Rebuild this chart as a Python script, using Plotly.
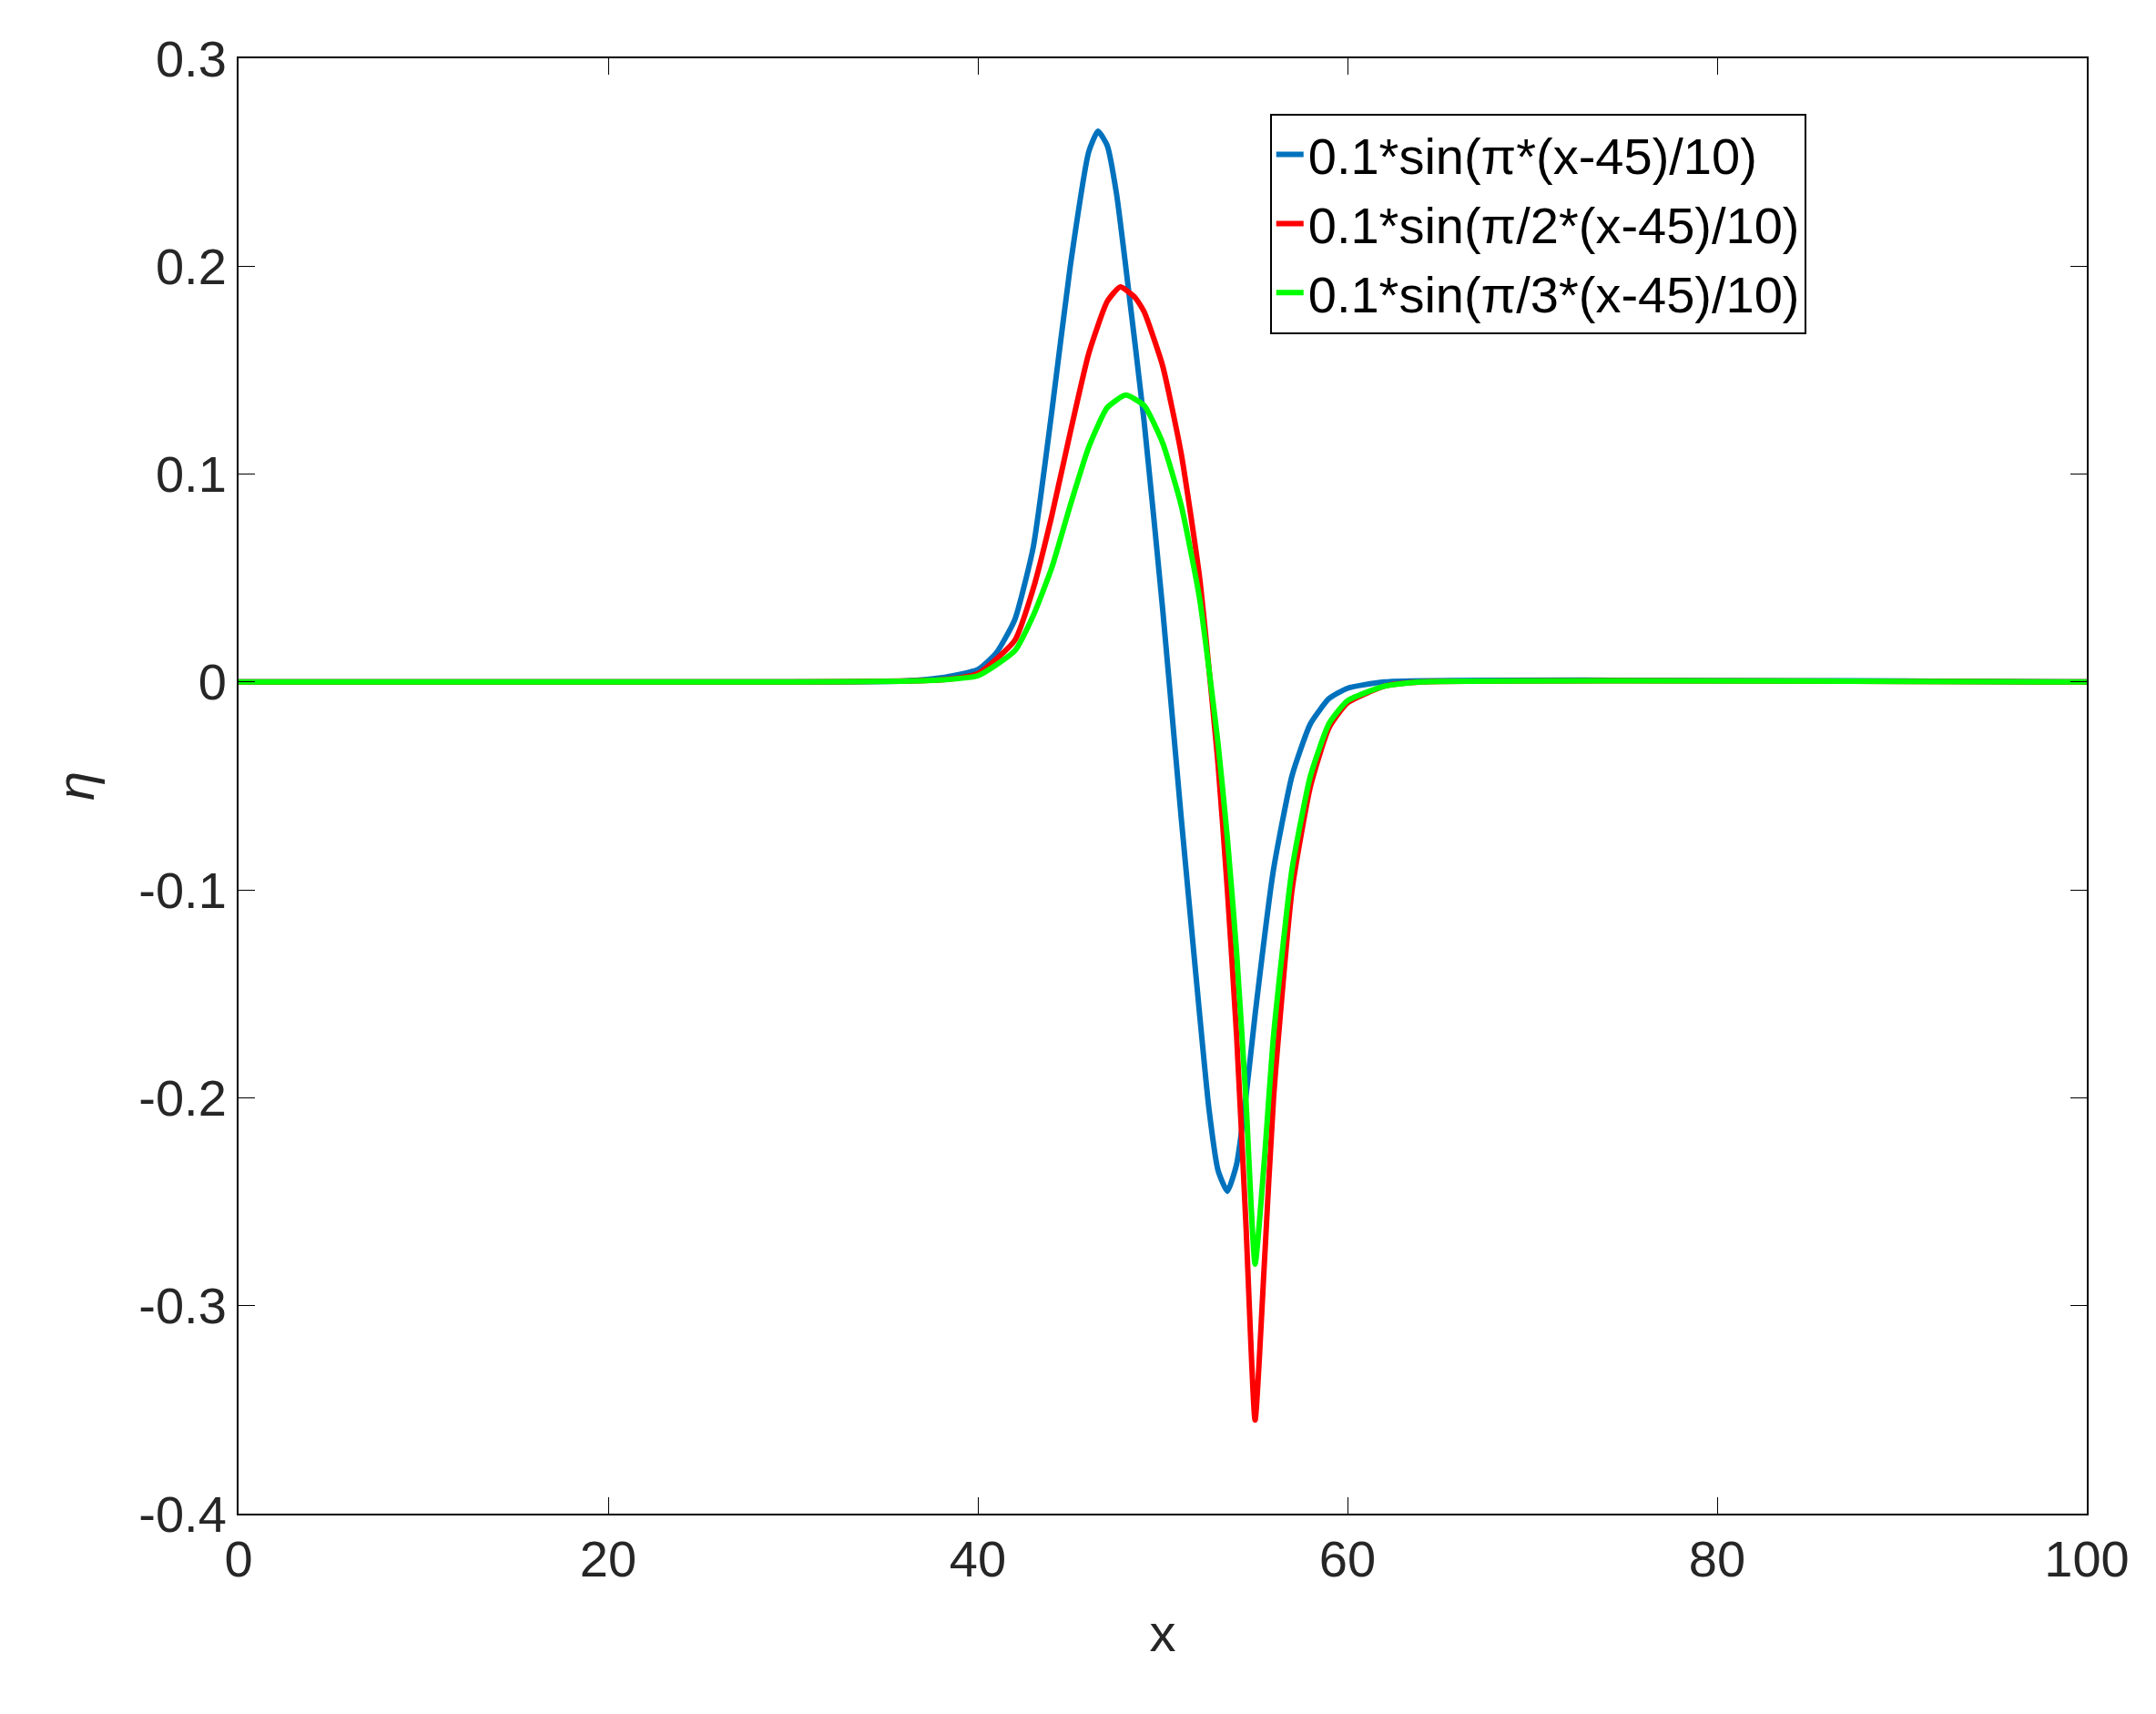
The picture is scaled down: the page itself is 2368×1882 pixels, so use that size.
import plotly.graph_objects as go

x_blue = [0, 30, 36, 38, 40, 41, 42, 43, 44, 45, 46, 46.5, 47, 47.5, 48, 49, 50, 51, 52, 52.5, 53, 53.5, 54, 54.5, 55, 56, 57, 58, 59, 60, 62, 100]
y_blue = [0, 0, 0.0005, 0.002, 0.006, 0.014, 0.03, 0.065, 0.13, 0.2, 0.255, 0.265, 0.258, 0.235, 0.2, 0.125, 0.035, -0.065, -0.16, -0.205, -0.235, -0.245, -0.232, -0.2, -0.16, -0.09, -0.045, -0.02, -0.008, -0.003, 0, 0]
x_red = [0, 30, 36, 38, 40, 42, 43, 44, 45, 46, 47, 47.7, 48.5, 49, 50, 51, 52, 53, 53.5, 54, 54.5, 55, 55.5, 56, 57, 58, 59, 60, 62, 64, 100]
y_red = [0, 0, 0.0005, 0.001, 0.004, 0.02, 0.045, 0.08, 0.12, 0.158, 0.183, 0.19, 0.185, 0.178, 0.152, 0.11, 0.05, -0.04, -0.1, -0.17, -0.26, -0.355, -0.28, -0.2, -0.1, -0.05, -0.022, -0.01, -0.002, 0, 0]
x_green = [0, 30, 36, 38, 40, 42, 43, 44, 45, 46, 47, 48, 49, 50, 51, 52, 53, 53.5, 54, 54.5, 55, 55.5, 56, 57, 58, 59, 60, 62, 64, 100]
y_green = [0, 0, 0.0004, 0.001, 0.003, 0.015, 0.032, 0.055, 0.085, 0.113, 0.132, 0.138, 0.133, 0.115, 0.085, 0.04, -0.03, -0.075, -0.13, -0.2, -0.28, -0.23, -0.17, -0.09, -0.045, -0.02, -0.009, -0.002, 0, 0]

names = ["0.1*sin(π*(x-45)/10)", "0.1*sin(π/2*(x-45)/10)", "0.1*sin(π/3*(x-45)/10)"]
colors = ["#0072BD", "#FF0000", "#00FF00"]
y_tickvals = [-0.4, -0.3, -0.2, -0.1, 0, 0.1, 0.2, 0.3]
y_ticktext = ["-0.4", "-0.3", "-0.2", "-0.1", "0", "0.1", "0.2", "0.3"]

fig = go.Figure()
for xs, ys, n, c in [(x_blue, y_blue, names[0], colors[0]), (x_red, y_red, names[1], colors[1]), (x_green, y_green, names[2], colors[2])]:
    fig.add_trace(go.Scatter(x=xs, y=ys, name=n, mode="lines", line=dict(color=c, width=6, shape="spline", smoothing=0.5)))

ax = dict(showgrid=False, zeroline=False, showline=True, linecolor="black", linewidth=2, mirror="ticks",
          ticks="inside", ticklen=18, tickcolor="black", tickfont=dict(size=56, color="#262626"))
fig.update_layout(
    width=2368, height=1882, plot_bgcolor="white", paper_bgcolor="white",
    font=dict(family="Liberation Sans, Arial", color="#262626"),
    margin=dict(l=254, r=84, t=56, b=228),
    xaxis=dict(range=[0, 100], dtick=20, title=dict(text="x", font=dict(size=58), standoff=30), **ax),
    yaxis=dict(range=[-0.4, 0.3], tickvals=y_tickvals, ticktext=y_ticktext,
               title=dict(text="<i>η</i>", font=dict(size=58), standoff=30), **ax),
    legend=dict(x=0.558, y=0.962, xanchor="left", yanchor="top", bordercolor="black", borderwidth=2,
                bgcolor="white", font=dict(size=56, color="black"), tracegroupgap=0, itemwidth=30),
)
fig.write_html("out.html")
